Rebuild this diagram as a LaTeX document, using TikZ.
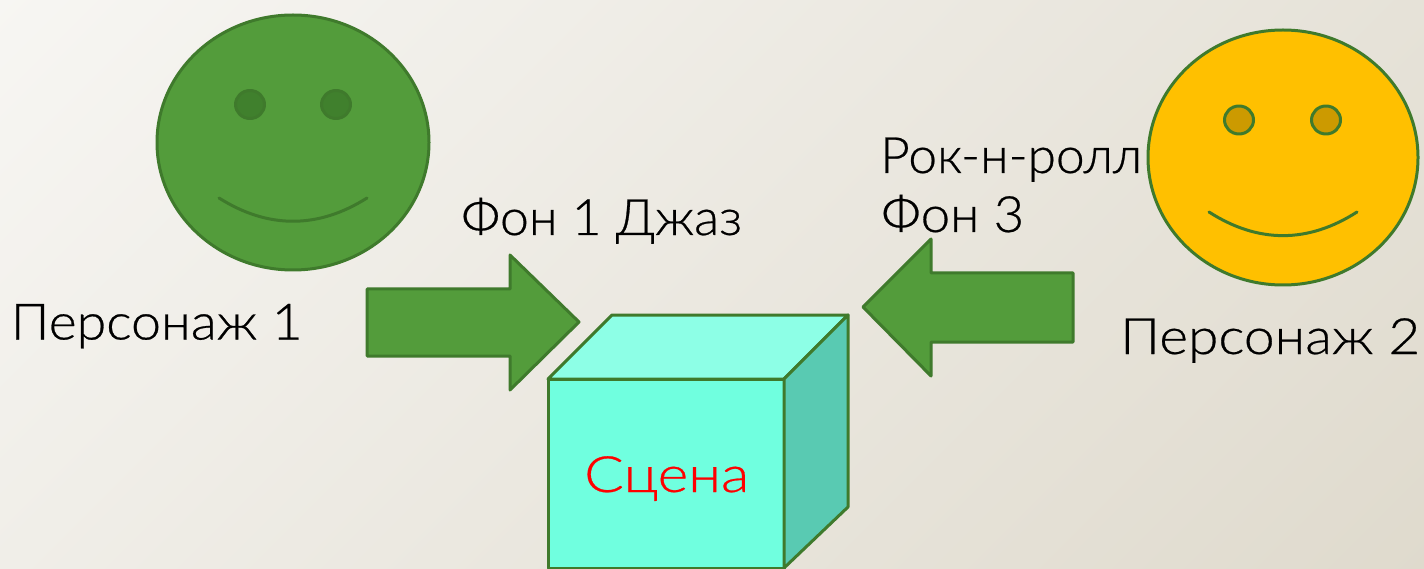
\documentclass[tikz,border=0pt]{standalone}
\usepackage{graphicx}
\usepackage{fontspec}
\setmainfont[FakeBold=0.5]{Lato Light}
\definecolor{bgA}{HTML}{F7F6F3}
\definecolor{bgB}{HTML}{DFDACD}
\definecolor{grn}{HTML}{539C3B}
\definecolor{grnD}{HTML}{3F7A2C}
\definecolor{grnE}{HTML}{40802D}
\definecolor{ylw}{HTML}{FFC000}
\definecolor{ylwE}{HTML}{CC9A00}
\definecolor{cubeF}{HTML}{70FFDF}
\definecolor{cubeT}{HTML}{8DFFE6}
\definecolor{cubeS}{HTML}{59CAB2}
\newcommand\fitw[2]{\resizebox{#1pt}{\height}{#2}}
\tikzset{
  edge/.style={draw=grnD,line width=3pt,line join=round,line cap=round},
  lbl/.style={anchor=base west,inner sep=0pt,font=\fontsize{50}{54}\selectfont,text=black}
}
\begin{document}
\begin{tikzpicture}[x=1pt,y=-1pt]
\useasboundingbox (0,0) rectangle (1424,569);
\begin{scope}
\clip (0,0) rectangle (1424,569);
\shade[left color=bgA,right color=bgB,transform canvas={rotate around={-45:(712,284.5)}}] (0,-700) rectangle (1424,1300);
\end{scope}
% green face
\draw[edge,fill=grn] (293,142.5) ellipse [x radius=136,y radius=127.5];
\draw[edge,fill=grnE] (250,104.5) ellipse [x radius=14.5,y radius=14];
\draw[edge,fill=grnE] (336,104.5) ellipse [x radius=14.5,y radius=14];
\draw[edge] (219,198) .. controls (268,229) and (318,229) .. (367,198);
% yellow face
\draw[edge,fill=ylw] (1283,157.5) ellipse [x radius=135,y radius=127.5];
\draw[edge,fill=ylwE] (1239,120) ellipse [x radius=14.5,y radius=14];
\draw[edge,fill=ylwE] (1326,120) ellipse [x radius=14.5,y radius=14];
\draw[edge] (1209,212) .. controls (1258,243.5) and (1308,243.5) .. (1357,212);
% arrows
\draw[edge,fill=grn] (367,289) -- (510,289) -- (510,255) -- (579,322) -- (510,390) -- (510,356) -- (367,356) -- cycle;
\draw[edge,fill=grn] (1073,273) -- (931,273) -- (931,239) -- (863,307) -- (931,376) -- (931,342) -- (1073,342) -- cycle;
% cube
\draw[edge,fill=cubeF] (548,379) rectangle (784,568);
\draw[edge,fill=cubeT] (548,379) -- (612,315) -- (848,315) -- (784,379) -- cycle;
\draw[edge,fill=cubeS] (784,379) -- (848,315) -- (848,507) -- (784,568) -- cycle;
% labels
\node[lbl] (p1) at (10.5,339.5) {\fitw{292}{Персонаж 1}};
\node[lbl] (p2) at (1120,354) {\fitw{300}{Персонаж 2}};
\node[lbl] (f1) at (461,235) {\fitw{281}{Фон 1 Джаз}};
\node[lbl] (r) at (880,173) {\fitw{262}{Рок-н-ролл}};
\node[lbl] (f3) at (881,232) {\fitw{143}{Фон 3}};
\node[lbl,text=red] (s) at (584,492) {\fitw{165}{Сцена}};
\end{tikzpicture}
\end{document}
